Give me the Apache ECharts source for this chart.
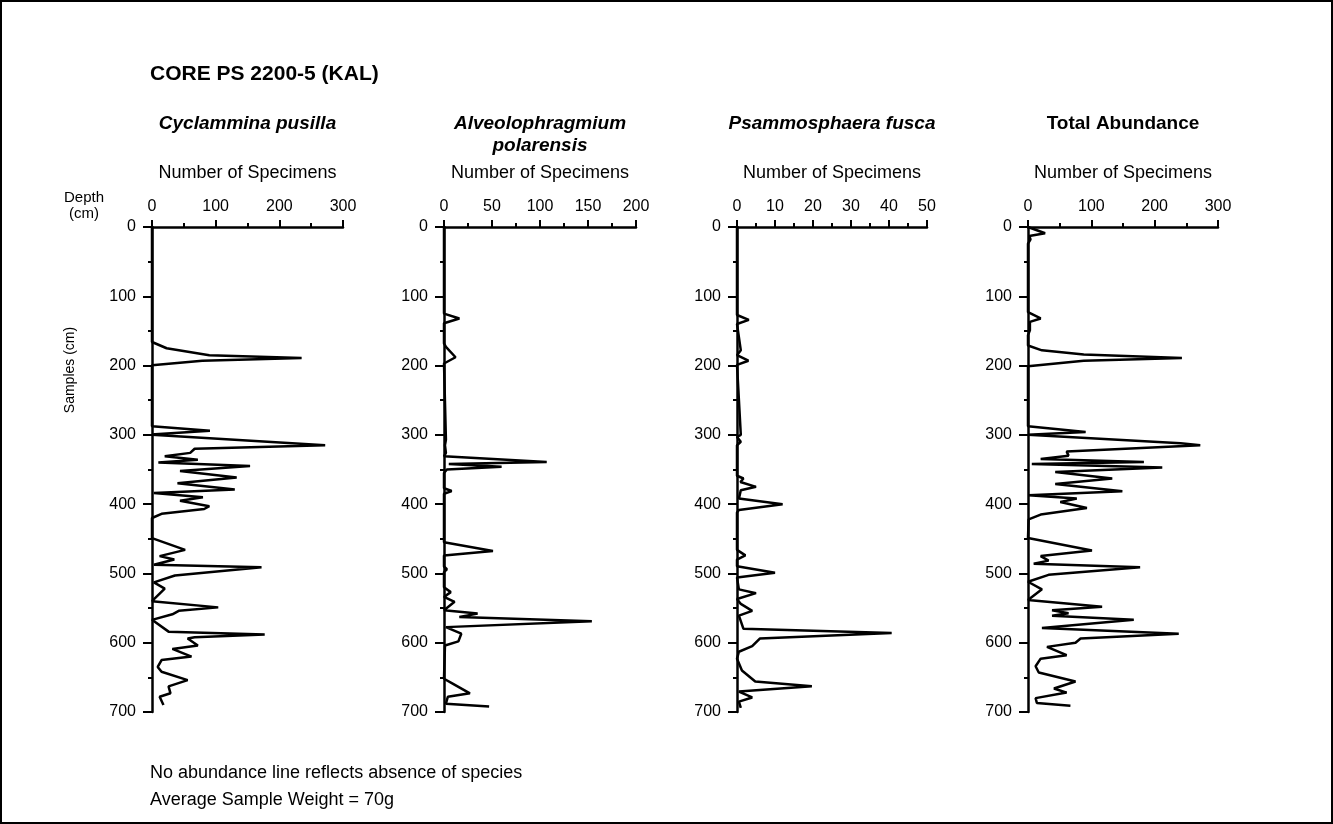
<!DOCTYPE html>
<html>
<head>
<meta charset="utf-8">
<script src="https://cdn.jsdelivr.net/npm/echarts@6/dist/echarts.min.js"></script>
<style>
  html, body { margin: 0; padding: 0; background: #fff; }
  #chart { width: 1333px; height: 824px; }
</style>
</head>
<body>
<div id="chart"></div>
<script>
// depth (cm) / number of specimens
var pusillaDepth = [0,166,175,185,189,193,199.6,287.6,294,299,300,315,320,326,331,336,340,345,352,361.5,370,379,384,390,395,403,407,414,420,449,466,475,480,487.5,491,503,513,522,540,549,554,559,567,584,588,592,594,604,609,620,625,635,642,654,663,673,678,690];
var pusillaCount = [0,0,23,90,235,79,0,0,91,5,0,272,67,60,20,72,10,154,44,133,40,130,3,80,44,90,82,15,0,0,52,12,35,3,172,36,3,20,0,104,42,32,0,26,177,67,56,72,32,62,15,9,15,56,26,29,12,18];

var polarDepth = [0,125,132,139,168,173,188,197,307,315,326,331,339,342,346,350,355,377,381,385,455,467.5,474,490,494,498,520,527,534,541,553,558,563,569,577.5,587,598,604,652,659,673,678,688,692];
var polarCount = [0,0,16,0,0,2,12,0,2,1,2,0,107,5,60,3,0,0,8,0,0,51,0,0,3,0,0,7,0,11,0,35,16,154,2,18,15,1,0,9,27,4,2,47];

var fuscaDepth = [0,127,134,140,178,185,193,199,300,303,310,315,359,363,368,375,380,392,400,408.5,412,466,474,480,489.5,499,506,523,528.5,537,544,554,561,580,586,594,605,613,623,640,656,663,670.5,679,685,694];
var fuscaCount = [0,0,3.1,0,1,0,3,0,1,0,1,0,0,1.7,0.9,5,1,0.5,12,0.5,0,0,2.2,0,0,10,0,0.5,5,0,1,4,0.5,1.7,40.7,6,4,0.5,0,1.3,4.8,19.7,0.5,4,0.5,1];

var totalDepth = [0,1,9,13,18,24,123,132,137,149,156,171,178,184,189,193,201,287.5,296,300,312,315,324,330,335,339,342,347,353.5,363,371,381.5,387,392,397,405.7,415,422,449,467,475,481.5,486,491,502,512,523,538.5,548,553,557.6,561,567,578.6,587,594,600,606,618,623,634,643,656,666,672,680,687,691];
var totalCount = [0,0,27,2,4,0,0,20,3,3,0,0,22,88,243,88,0,0,91,0,241,272,61,64,20,183,6,212,43,133,43,149,1,77,51,93,20,1,0,101,20,32.5,9,177,32.5,0,22,0,117,38,64,38,167,22,238,83,75,30,61,20,12,17,75,41,61,12,14,67];

var panelTitles = ['Cyclammina pusilla', 'Alveolophragmium\npolarensis', 'Psammosphaera fusca', 'Total Abundance'];
var xMax = [300, 200, 50, 300];
var xStep = [100, 50, 10, 100];
var depths = [pusillaDepth, polarDepth, fuscaDepth, totalDepth];
var counts = [pusillaCount, polarCount, fuscaCount, totalCount];

var gridLeft = [152, 444, 737, 1028];
var gridWidth = [191, 192, 190, 190];
var FONT = '"Liberation Sans", Arial, Helvetica, sans-serif';

var grids = [], xAxes = [], yAxes = [], series = [], titles = [];

titles.push({
    text: 'CORE PS 2200-5 (KAL)',
    left: 150, top: 64, padding: 0,
    textStyle: { fontFamily: FONT, fontSize: 21, fontWeight: 'bold', color: '#000' }
});

for (var i = 0; i < 4; i++) {
    grids.push({ left: gridLeft[i], width: gridWidth[i], top: 227, height: 485 });
    xAxes.push({
        type: 'value', gridIndex: i, position: 'top',
        min: 0, max: xMax[i], interval: xStep[i],
        name: 'Number of Specimens', nameLocation: 'middle', nameGap: 45,
        nameTextStyle: { fontFamily: FONT, fontSize: 18, color: '#000' },
        axisLine: { show: true, lineStyle: { color: '#000', width: 2.5 } },
        axisTick: { show: true, length: 7, lineStyle: { color: '#000', width: 2 } },
        minorTick: { show: true, splitNumber: 2, length: 4, lineStyle: { color: '#000', width: 2 } },
        axisLabel: { fontFamily: FONT, fontSize: 16, color: '#000', margin: 12 },
        splitLine: { show: false }
    });
    yAxes.push({
        type: 'value', gridIndex: i, inverse: true,
        min: 0, max: 700, interval: 100,
        axisLine: { show: true, onZero: false, lineStyle: { color: '#000', width: 2.5 } },
        axisTick: { show: true, length: 9, lineStyle: { color: '#000', width: 2 } },
        minorTick: { show: true, splitNumber: 2, length: 4, lineStyle: { color: '#000', width: 2 } },
        axisLabel: { fontFamily: FONT, fontSize: 16, color: '#000', margin: 16 },
        splitLine: { show: false }
    });
    var pts = [];
    for (var j = 0; j < depths[i].length; j++) {
        pts.push([counts[i][j], depths[i][j]]);
    }
    series.push({
        type: 'line', xAxisIndex: i, yAxisIndex: i,
        data: pts, showSymbol: false, smooth: false,
        lineStyle: { color: '#000', width: 2.5 },
        clip: false
    });
    titles.push({
        text: panelTitles[i],
        left: gridLeft[i] + gridWidth[i] / 2, top: 113, textAlign: 'center', padding: 0,
        textStyle: {
            fontFamily: FONT, fontSize: 19, fontWeight: 'bold',
            fontStyle: i === 3 ? 'normal' : 'italic', color: '#000', lineHeight: 22
        }
    });
}

titles.push({
    text: 'No abundance line reflects absence of species\nAverage Sample Weight = 70g',
    left: 150, top: 760, padding: 0,
    textStyle: { fontFamily: FONT, fontSize: 18, fontWeight: 'normal', color: '#000', lineHeight: 27 }
});
titles.push({
    text: 'Depth\n(cm)',
    left: 84, top: 190, textAlign: 'center', padding: 0,
    textStyle: { fontFamily: FONT, fontSize: 15, fontWeight: 'normal', color: '#000', lineHeight: 16 }
});

var myChart = echarts.init(document.getElementById('chart'), null, { renderer: 'canvas' });
myChart.setOption({
    animation: false,
    backgroundColor: '#fff',
    title: titles,
    grid: grids,
    xAxis: xAxes,
    yAxis: yAxes,
    series: series,
    graphic: [
        {
            type: 'rect', shape: { x: 1, y: 1, width: 1331, height: 822 },
            style: { fill: 'none', stroke: '#000', lineWidth: 2 }
        },
        {
            type: 'text', x: 70, y: 370, rotation: Math.PI / 2,
            style: { text: 'Samples (cm)', font: '14px ' + FONT, fill: '#000', align: 'center', verticalAlign: 'middle' }
        }
    ]
});
</script>
</body>
</html>
